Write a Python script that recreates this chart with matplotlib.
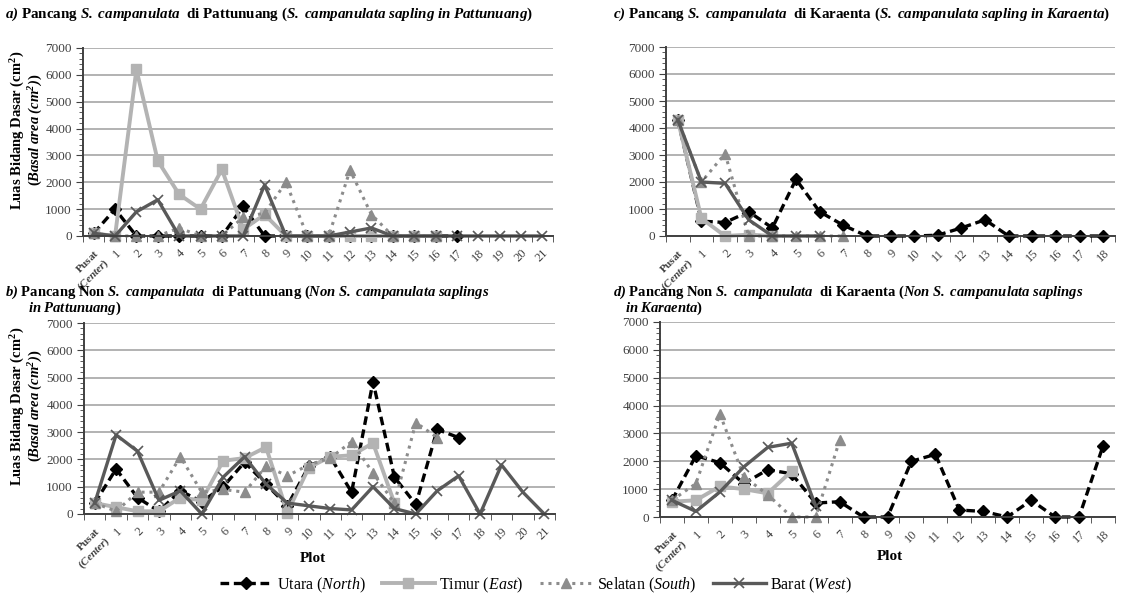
import matplotlib
matplotlib.use("Agg")
import numpy as np
import matplotlib.pyplot as plt
from matplotlib.ticker import MultipleLocator
from matplotlib.lines import Line2D

plt.rcParams['font.family'] = 'Liberation Serif'
plt.rcParams['mathtext.fontset'] = 'custom'
plt.rcParams['mathtext.rm'] = 'Liberation Serif'
plt.rcParams['mathtext.it'] = 'Liberation Serif:italic'
plt.rcParams['mathtext.bf'] = 'Liberation Serif:bold'
plt.rcParams['mathtext.bfit'] = 'Liberation Serif:italic:bold'

# === Plot labels ===
center_label = r"$\mathbf{Pusat}$" + "\n" + r"$\mathbf{(}\mathbfit{Center}\mathbf{)}$"
plots_pattunuang = [center_label, '1', '2', '3', '4', '5', '6', '7', '8', '9', '10',
                    '11', '12', '13', '14', '15', '16', '17', '18', '19', '20', '21']
plots_karaenta = [center_label, '1', '2', '3', '4', '5', '6', '7', '8', '9', '10',
                  '11', '12', '13', '14', '15', '16', '17', '18']

# === a) S. campanulata, Pattunuang ===
a_utara = [100, 1000, 0, 0, 0, 0, 0, 1100, 0, 0, 0, 0, 0, 0, 0, 0, 0, 0]
a_timur = [100, 0, 6200, 2800, 1550, 1000, 2480, 250, 800, 0, 0, 0, 0, 0, 0, 0, 0]
a_selatan = [100, 0, 0, 0, 300, 0, 0, 700, 850, 2000, 0, 0, 2450, 800, 0, 0, 0]
a_barat = [100, 0, 900, 1350, 0, 0, 0, 0, 1900, 0, 0, 0, 150, 300, 0, 0, 0,
           0, 0, 0, 0, 0]

# === b) Non S. campanulata, Pattunuang ===
b_utara = [400, 1650, 600, 100, 850, 450, 1000, 1900, 1100, 300, 1750, 2100,
           800, 4850, 1350, 350, 3100, 2800]
b_timur = [400, 250, 100, 100, 600, 500, 1950, 2050, 2450, 50, 1700, 2100,
           2150, 2600, 400]
b_selatan = [400, 100, 800, 800, 2100, 800, 900, 800, 1750, 1400, 1800, 2050,
             2650, 1500, 400, 3350, 2800]
b_barat = [400, 2900, 2300, 500, 850, 0, 1350, 2100, 1100, 400, 300, 200,
           150, 1000, 200, 0, 850, 1400, 0, 1800, 800, 0]

# === c) S. campanulata, Karaenta ===
c_utara = [4300, 550, 500, 900, 300, 2100, 900, 400, 0, 0, 0, 30, 300, 600,
           0, 0, 0, 0, 0]
c_timur = [4300, 650, 0, 50, 0]
c_selatan = [4300, 2000, 3050, 0, 0, 0, 0, 0]
c_barat = [4300, 2000, 1950, 600, 0, 0, 0]

# === d) Non S. campanulata, Karaenta ===
d_utara = [600, 2200, 1950, 1200, 1700, 1550, 500, 550, 0, 0, 2000, 2250,
           250, 200, 0, 600, 0, 0, 2550]
d_timur = [550, 600, 1100, 1000, 850, 1650]
d_selatan = [600, 1200, 3700, 1450, 800, 0, 0, 2750]
d_barat = [600, 200, 900, 1800, 2500, 2650, 400]

series_names = ['Utara', 'Timur', 'Selatan', 'Barat']
legend_labels = [r"Utara ($\mathit{North}$)", r"Timur ($\mathit{East}$)",
                 r"Selatan ($\mathit{South}$)", r"Barat ($\mathit{West}$)"]

styles = {
    'Utara': dict(color='black', ls=(0, (2.6, 1.4)), lw=2.4, marker='D', ms=6),
    'Timur': dict(color='#b3b3b3', ls='-', lw=2.8, marker='s', ms=7.5),
    'Selatan': dict(color='#8c8c8c', ls=(0, (1, 1.6)), lw=2.2, marker='^', ms=7.5),
    'Barat': dict(color='#595959', ls='-', lw=2.4, marker='x', ms=7, mew=1.2),
}

W, H = 1121, 597
fig = plt.figure(figsize=(W / 100, H / 100), dpi=100)


def px_axes(left, top, right, bottom):
    return fig.add_axes([left / W, 1 - bottom / H, (right - left) / W, (bottom - top) / H])


def setup(ax, labels):
    n = len(labels)
    ax.set_xlim(-0.5, n - 0.5)
    ax.set_ylim(0, 7000)
    ax.yaxis.set_major_locator(MultipleLocator(1000))
    ax.yaxis.set_minor_locator(MultipleLocator(200))
    ax.grid(axis='y', which='major', color='#a6a6a6', lw=1.2)
    ax.set_axisbelow(True)
    for s in ['top', 'right']:
        ax.spines[s].set_visible(False)
    for s in ['left', 'bottom']:
        ax.spines[s].set_color('#404040')
        ax.spines[s].set_linewidth(1.4)
    ax.set_xticks(range(n))
    ax.set_xticklabels(labels, rotation=45, ha='right', rotation_mode='anchor',
                       fontsize=9, color='#404040')
    ax.set_xticks(np.arange(-0.5, n), minor=True)
    ax.tick_params(axis='x', which='major', length=0, pad=8)
    ax.tick_params(axis='x', which='minor', length=4, color='#404040')
    ax.tick_params(axis='y', which='major', length=5, color='#404040',
                   labelsize=9.5, labelcolor='#404040', pad=3)
    ax.tick_params(axis='y', which='minor', length=3, color='#404040')
    ax.get_xticklabels()[0].set_fontsize(8)


def draw(ax, data):
    for name, vals in zip(series_names, data):
        ax.plot(range(len(vals)), vals, clip_on=False, **styles[name])


ax_a = px_axes(83, 48, 553, 236)
ax_c = px_axes(666, 47, 1115, 236)
ax_b = px_axes(84, 323, 555, 514)
ax_d = px_axes(660, 322, 1115, 517)

setup(ax_a, plots_pattunuang)
setup(ax_b, plots_pattunuang)
setup(ax_c, plots_karaenta)
setup(ax_d, plots_karaenta)

draw(ax_a, [a_utara, a_timur, a_selatan, a_barat])
draw(ax_b, [b_utara, b_timur, b_selatan, b_barat])
draw(ax_c, [c_utara, c_timur, c_selatan, c_barat])
draw(ax_d, [d_utara, d_timur, d_selatan, d_barat])

# panel titles
tkw = dict(fontsize=10.8, fontweight='bold', ha='left', va='baseline')
fig.text(5 / W, 1 - 18 / H,
         r"$\mathbfit{a)}$ Pancang $\mathbfit{S.\ campanulata}$  di Pattunuang "
         r"($\mathbfit{S.\ campanulata\ sapling\ in\ Pattunuang}$)", **tkw)
fig.text(613 / W, 1 - 18 / H,
         r"$\mathbfit{c)}$ Pancang $\mathbfit{S.\ campanulata}$  di Karaenta "
         r"($\mathbfit{S.\ campanulata\ sapling\ in\ Karaenta}$)", **tkw)

# two-line titles, second line indented
tkw2 = dict(fontsize=10.5, fontweight='bold', ha='left', va='baseline')
fig.text(5 / W, 1 - 296 / H,
         r"$\mathbfit{b)}$ Pancang Non $\mathbfit{S.\ campanulata}$  di Pattunuang "
         r"($\mathbfit{Non\ S.\ campanulata\ saplings}$", **tkw2)
fig.text(28 / W, 1 - 312 / H, r"$\mathbfit{in\ Pattunuang}$)", **tkw2)
fig.text(613 / W, 1 - 296 / H,
         r"$\mathbfit{d)}$ Pancang Non $\mathbfit{S.\ campanulata}$  di Karaenta "
         r"($\mathbfit{Non\ S.\ campanulata\ saplings}$", **tkw2)
fig.text(625 / W, 1 - 312 / H, r"$\mathbfit{in\ Karaenta}$)", **tkw2)

# y-axis labels
ylab = ("Luas Bidang Dasar (cm$\\mathbf{^2}$)\n"
        r"($\mathbfit{Basal\ area\ (cm^2)}$)")
for yc in [130, 406]:
    fig.text(27 / W, 1 - yc / H, ylab, fontsize=10.5, fontweight='bold',
             rotation=90, ha='center', va='center', linespacing=0.95)

# x-axis labels
fig.text(313 / W, 1 - 558 / H, "Plot", fontsize=11, fontweight='bold',
         ha='center', va='center')
fig.text(890 / W, 1 - 557 / H, "Plot", fontsize=11, fontweight='bold',
         ha='center', va='center')

handles = [Line2D([], [], **styles[n]) for n in series_names]
fig.legend(handles, legend_labels, loc='center', bbox_to_anchor=(0.478, 1 - 585 / H),
           ncol=4, frameon=False, fontsize=11.5, handlelength=3.3, handletextpad=0.3,
           columnspacing=1.0, borderpad=0)

fig.savefig("out.png", dpi=100)
